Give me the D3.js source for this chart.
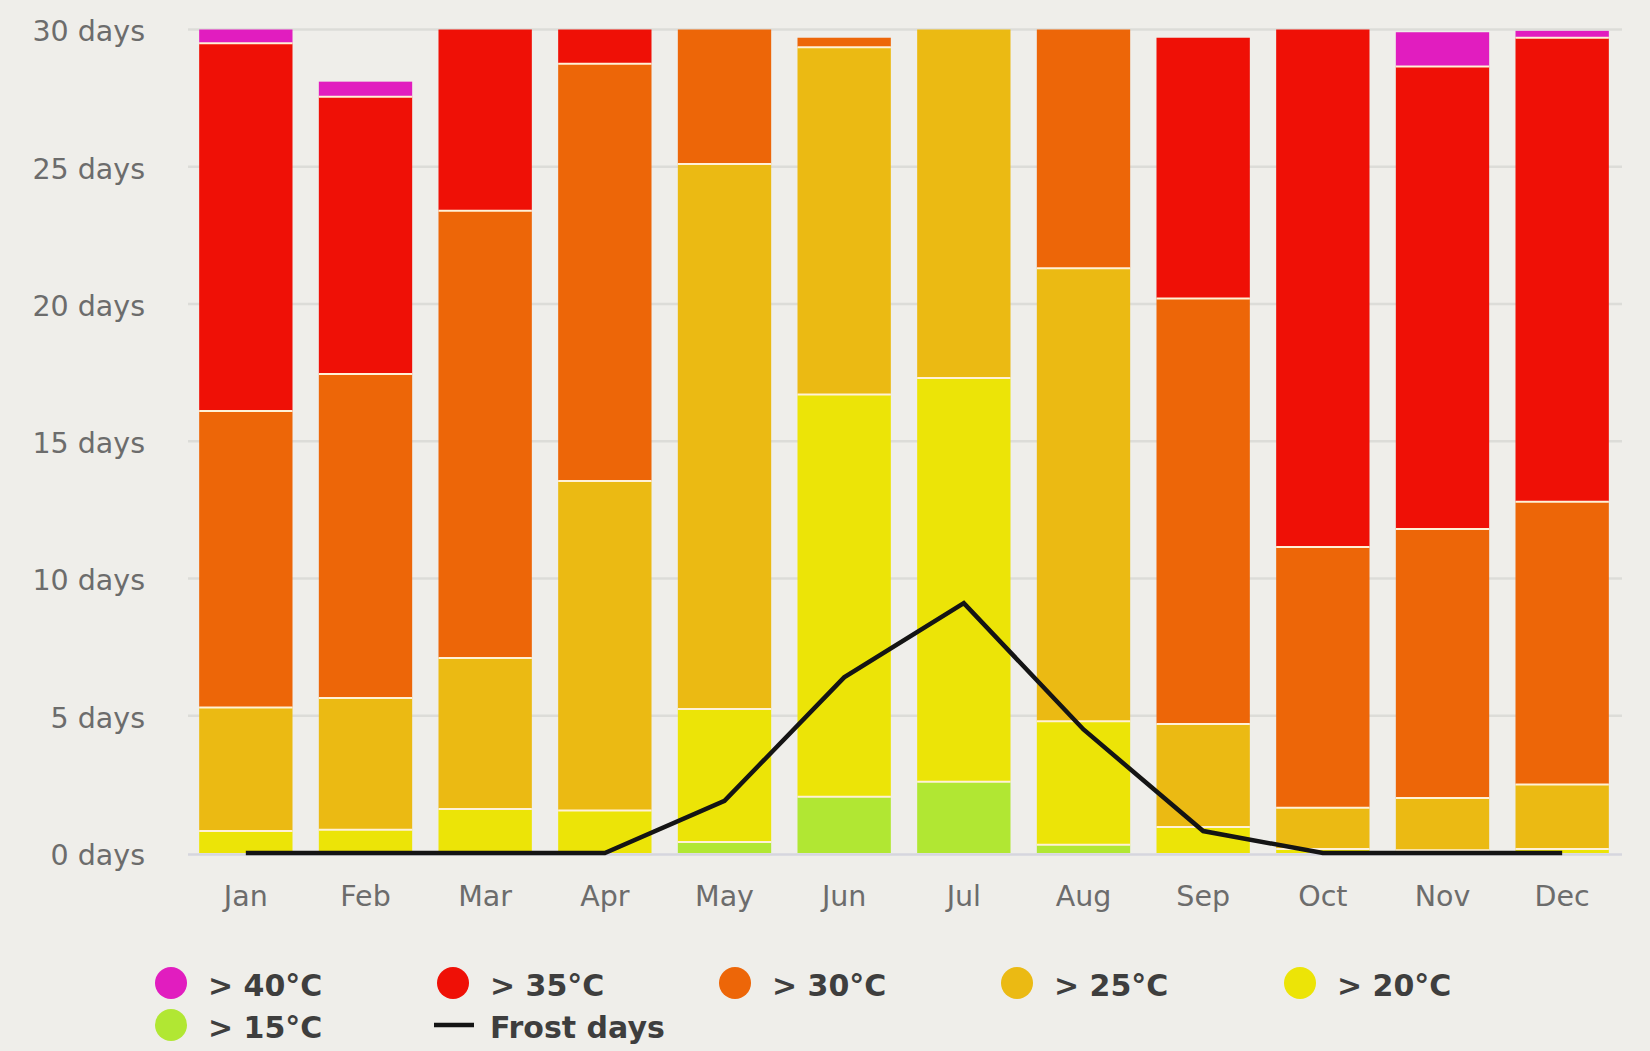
<!DOCTYPE html>
<html>
<head>
<meta charset="utf-8">
<script src="https://cdn.jsdelivr.net/npm/d3@7"></script>
<style>
  html, body { margin: 0; padding: 0; background: #efeeea; }
  svg { display: block; }
</style>
</head>
<body>
<svg id="chart" width="1650" height="1051"></svg>
<script>
const months = ["Jan","Feb","Mar","Apr","May","Jun","Jul","Aug","Sep","Oct","Nov","Dec"];
// days per month in each max-temperature class (stacked bottom -> top)
const over15 = [0, 0, 0, 0, 0.4, 2.05, 2.6, 0.3, 0, 0, 0, 0];
const over20 = [0.8, 0.85, 1.6, 1.55, 4.85, 14.65, 14.7, 4.5, 0.95, 0.15, 0.1, 0.15];
const over25 = [4.5, 4.8, 5.5, 12.0, 19.85, 12.65, 12.7, 16.5, 3.75, 1.5, 1.9, 2.35];
const over30 = [10.8, 11.8, 16.3, 15.2, 4.9, 0.35, 0, 8.7, 15.5, 9.5, 9.8, 10.3];
const over35 = [13.4, 10.1, 6.6, 1.25, 0, 0, 0, 0, 9.5, 18.85, 16.85, 16.9];
const over40 = [0.5, 0.55, 0, 0, 0, 0, 0, 0, 0, 0, 1.25, 0.25];
const frostDays = [0, 0, 0, 0, 1.9, 6.4, 9.1, 4.5, 0.8, 0, 0, 0];
const yTicks = [0, 5, 10, 15, 20, 25, 30];

const seriesKeys = ["over15","over20","over25","over30","over35","over40"];
const seriesNames = {over15:"> 15°C", over20:"> 20°C", over25:"> 25°C", over30:"> 30°C", over35:"> 35°C", over40:"> 40°C"};
const colors = {over40:"#e11dbf", over35:"#ef1006", over30:"#ed6608", over25:"#ebba13", over20:"#ece407", over15:"#b1e733"};
const seriesArrays = {over15, over20, over25, over30, over35, over40};

const rows = months.map((m, i) => {
  const r = {month: m};
  seriesKeys.forEach(k => r[k] = seriesArrays[k][i]);
  return r;
});

const svg = d3.select("#chart");
const plotL = 186, plotR = 1622, plotT = 29.5, plotB = 853;

const x = d3.scaleBand().domain(months).range([plotL, plotR]).paddingInner(0.22).paddingOuter(0.11);
const y = d3.scaleLinear().domain([0, 30]).range([plotB, plotT]);

const font = "'DejaVu Sans', sans-serif";

// gridlines
svg.append("g").selectAll("line").data(yTicks.filter(t => t > 0)).join("line")
  .attr("x1", plotL + 2).attr("x2", plotR)
  .attr("y1", d => y(d)).attr("y2", d => y(d))
  .attr("stroke", "#dcdcd8").attr("stroke-width", 2.5);

// y axis labels
const yAxis = d3.axisLeft(y).tickValues(yTicks).tickSize(0).tickPadding(0).tickFormat(d => d + " days");
const gy = svg.append("g").attr("transform", `translate(${145},0)`).call(yAxis);
gy.select(".domain").remove();
gy.selectAll("text").attr("font-family", font).attr("font-size", 28.5).attr("fill", "#6c6c6c").attr("dy", "0.4em");

// stacked bars
const stack = d3.stack().keys(seriesKeys);
const stacked = stack(rows);

const layers = svg.append("g").selectAll("g").data(stacked).join("g")
  .attr("fill", d => colors[d.key]);
layers.selectAll("rect").data(d => d.map(v => ({v, key: d.key}))).join("rect")
  .attr("x", d => x(d.v.data.month))
  .attr("width", x.bandwidth())
  .attr("y", d => y(d.v[1]))
  .attr("height", d => Math.max(0, y(d.v[0]) - y(d.v[1])));

// separators between segments
const seps = [];
stacked.forEach((layer, li) => {
  layer.forEach(v => {
    const h = v[1] - v[0];
    if (h <= 0) return;
    const above = stacked.slice(li + 1).some(l => {
      const u = l.find(q => q.data.month === v.data.month);
      return u[1] - u[0] > 0;
    });
    if (above) seps.push({month: v.data.month, val: v[1]});
  });
});
svg.append("g").selectAll("line").data(seps).join("line")
  .attr("x1", d => x(d.month)).attr("x2", d => x(d.month) + x.bandwidth())
  .attr("y1", d => y(d.val)).attr("y2", d => y(d.val))
  .attr("stroke", "#fff1d6").attr("stroke-width", 2);

// baseline
svg.append("line").attr("x1", plotL + 2).attr("x2", plotR).attr("y1", plotB + 1.5).attr("y2", plotB + 1.5)
  .attr("stroke", "#d6d6de").attr("stroke-width", 2.5);

// x axis labels
const xAxis = d3.axisBottom(x).tickSize(0).tickPadding(0);
const gx = svg.append("g").attr("transform", `translate(0,${906})`).call(xAxis);
gx.select(".domain").remove();
gx.selectAll("text").attr("font-family", font).attr("font-size", 28.5).attr("fill", "#6c6c6c").attr("dy", 0);

// frost line
const line = d3.line().x((d, i) => x(months[i]) + x.bandwidth() / 2).y(d => y(d));
svg.append("path").datum(frostDays).attr("d", line)
  .attr("fill", "none").attr("stroke", "#141414").attr("stroke-width", 4.5).attr("stroke-linejoin", "miter");

// legend
const legendItems = [
  {key: "over40", col: 0, row: 0},
  {key: "over35", col: 1, row: 0},
  {key: "over30", col: 2, row: 0},
  {key: "over25", col: 3, row: 0},
  {key: "over20", col: 4, row: 0},
  {key: "over15", col: 0, row: 1},
];
const legX = [171, 453, 735, 1017, 1300];
const legY = [983, 1025];
const lg = svg.append("g");
legendItems.forEach(it => {
  const cx = legX[it.col], cy = legY[it.row];
  lg.append("circle").attr("cx", cx).attr("cy", cy).attr("r", 16).attr("fill", colors[it.key]);
  lg.append("text").attr("x", cx + 37).attr("y", cy + 12.5).text(seriesNames[it.key])
    .attr("font-family", font).attr("font-weight", "bold").attr("font-size", 30).attr("fill", "#3e3e3e");
});
lg.append("line").attr("x1", 434).attr("x2", 474).attr("y1", legY[1]).attr("y2", legY[1])
  .attr("stroke", "#141414").attr("stroke-width", 4.5);
lg.append("text").attr("x", 490).attr("y", legY[1] + 12.5).text("Frost days")
  .attr("font-family", font).attr("font-weight", "bold").attr("font-size", 30).attr("fill", "#3e3e3e");
</script>
</body>
</html>
